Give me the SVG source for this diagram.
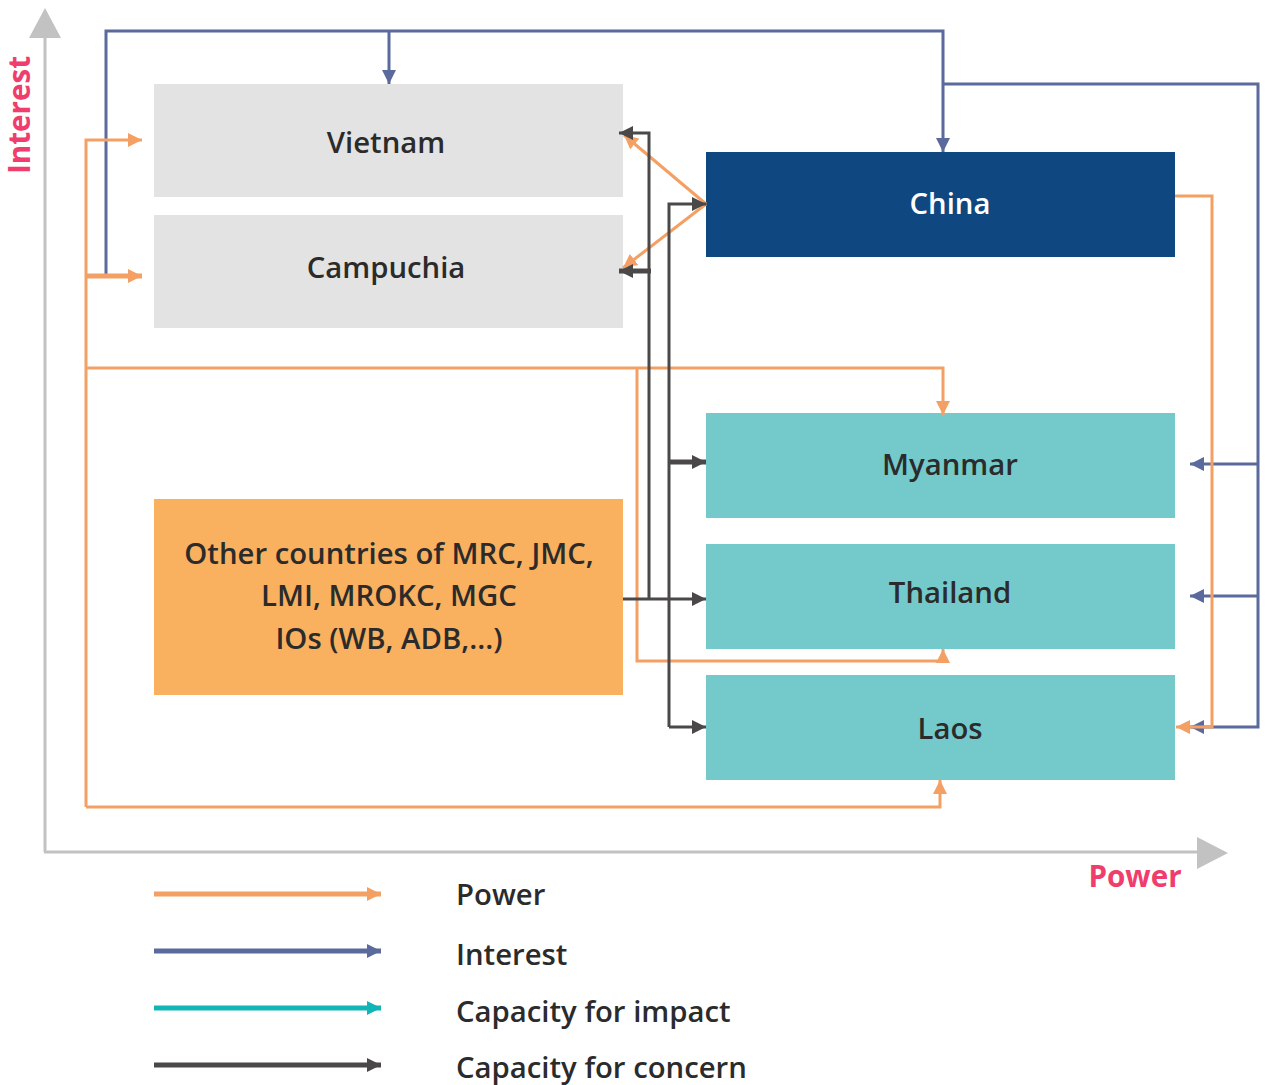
<svg xmlns="http://www.w3.org/2000/svg" width="1265" height="1085" viewBox="0 0 1265 1085">
  <style>
    .lbl { font-family: "Open Sans", "Liberation Sans", sans-serif; font-size: 29.3px; font-weight: 600; fill: #2b2b2b; text-anchor: middle; }
    .axis-lbl { font-family: "Open Sans", "Liberation Sans", sans-serif; font-size: 29.6px; font-weight: 700; fill: #ef3d6d; }
    .legend-lbl { font-family: "Open Sans", "Liberation Sans", sans-serif; font-size: 29.3px; font-weight: 600; fill: #2b2b2b; }
    .power { stroke: #f4a064; fill: none; stroke-width: 3; }
    .interest { stroke: #5a6a9c; fill: none; stroke-width: 3; }
    .impact { stroke: #12b5b5; fill: none; stroke-width: 3; }
    .concern { stroke: #4a4848; fill: none; stroke-width: 3; }
    .thick { stroke-width: 5; }
  </style>
  <defs>
    <marker id="ah-power" markerUnits="userSpaceOnUse" markerWidth="14" markerHeight="14" viewBox="0 0 14 14" refX="14" refY="7" orient="auto">
      <path d="M0,0 L14,7 L0,14 Z" fill="#f4a064"/>
    </marker>
    <marker id="ah-interest" markerUnits="userSpaceOnUse" markerWidth="14" markerHeight="14" viewBox="0 0 14 14" refX="14" refY="7" orient="auto">
      <path d="M0,0 L14,7 L0,14 Z" fill="#5a6a9c"/>
    </marker>
    <marker id="ah-impact" markerUnits="userSpaceOnUse" markerWidth="14" markerHeight="14" viewBox="0 0 14 14" refX="14" refY="7" orient="auto">
      <path d="M0,0 L14,7 L0,14 Z" fill="#12b5b5"/>
    </marker>
    <marker id="ah-concern" markerUnits="userSpaceOnUse" markerWidth="14" markerHeight="14" viewBox="0 0 14 14" refX="14" refY="7" orient="auto">
      <path d="M0,0 L14,7 L0,14 Z" fill="#4a4848"/>
    </marker>
  </defs>

  <rect width="1265" height="1085" fill="#ffffff"/>

  <!-- axes -->
  <g id="axes">
    <line x1="45" y1="36" x2="45" y2="852" stroke="#c2c2c2" stroke-width="3"/>
    <path d="M29,38 L45,8 L61,38 Z" fill="#c2c2c2"/>
    <line x1="44" y1="852" x2="1200" y2="852" stroke="#c2c2c2" stroke-width="3"/>
    <path d="M1197,837 L1228,853 L1197,869 Z" fill="#c2c2c2"/>
    <text class="axis-lbl" transform="translate(30,115) rotate(-90)" text-anchor="middle">Interest</text>
    <text class="axis-lbl" x="1135" y="887" text-anchor="middle">Power</text>
  </g>

  <!-- nodes -->
  <g id="vietnam">
    <rect x="154" y="84" width="469" height="113" fill="#e3e3e3"/>
    <text class="lbl" x="386" y="153">Vietnam</text>
  </g>
  <g id="campuchia">
    <rect x="154" y="215" width="469" height="113" fill="#e3e3e3"/>
    <text class="lbl" x="386" y="278">Campuchia</text>
  </g>
  <g id="china">
    <rect x="706" y="152" width="469" height="105" fill="#0f4780"/>
    <text class="lbl" x="950" y="214" style="fill:#ffffff">China</text>
  </g>
  <g id="myanmar">
    <rect x="706" y="413" width="469" height="105" fill="#74c9cb"/>
    <text class="lbl" x="950" y="475">Myanmar</text>
  </g>
  <g id="thailand">
    <rect x="706" y="544" width="469" height="105" fill="#74c9cb"/>
    <text class="lbl" x="950" y="603">Thailand</text>
  </g>
  <g id="laos">
    <rect x="706" y="675" width="469" height="105" fill="#74c9cb"/>
    <text class="lbl" x="950" y="739">Laos</text>
  </g>
  <g id="others">
    <rect x="154" y="499" width="469" height="196" fill="#f9b05f"/>
    <text class="lbl" x="389" y="564">Other countries of MRC, JMC,</text>
    <text class="lbl" x="389" y="606">LMI, MROKC, MGC</text>
    <text class="lbl" x="389" y="649">IOs (WB, ADB,...)</text>
  </g>

  <!-- connectors -->
  <g id="connectors">
    <!-- interest -->
    <path class="interest" d="M106,277 V31 H943 V152" marker-end="url(#ah-interest)"/>
    <path class="interest" d="M389,31 V84" marker-end="url(#ah-interest)"/>
    <path class="interest" d="M943,84 H1258 V727 H1190" marker-end="url(#ah-interest)"/>
    <path class="interest" d="M1258,464 H1190" marker-end="url(#ah-interest)"/>
    <path class="interest" d="M1258,596 H1190" marker-end="url(#ah-interest)"/>

    <!-- power -->
    <path class="power" d="M86,807 V140 H142" marker-end="url(#ah-power)"/>
    <path class="power thick" d="M86,276 H142" marker-end="url(#ah-power)"/>
    <path class="power" d="M86,368 H943 V415" marker-end="url(#ah-power)"/>
    <path class="power" d="M637,368 V661 H943 V649" marker-end="url(#ah-power)"/>
    <path class="power" d="M86,807 H940 V780" marker-end="url(#ah-power)"/>
    <path class="power" d="M1175,196 H1212 V727 H1176" marker-end="url(#ah-power)"/>
    <path class="power" d="M706,204 L624,135" marker-end="url(#ah-power)"/>
    <path class="power" d="M706,204 L623,268" marker-end="url(#ah-power)"/>

    <!-- concern -->
    <path class="concern" d="M623,599 H706" marker-end="url(#ah-concern)"/>
    <path class="concern" d="M649,599 V133 H619" marker-end="url(#ah-concern)"/>
    <path class="concern thick" d="M651,271 H619" marker-end="url(#ah-concern)"/>
    <path class="concern" d="M669,727 V204 H706" marker-end="url(#ah-concern)"/>
    <path class="concern" d="M669,727 H706" marker-end="url(#ah-concern)"/>
    <path class="concern thick" d="M668,462 H706" marker-end="url(#ah-concern)"/>
  </g>

  <!-- legend -->
  <g id="legend">
    <path class="power thick" d="M154,894 H381" marker-end="url(#ah-power)"/>
    <text class="legend-lbl" x="456" y="905">Power</text>
    <path class="interest thick" d="M154,951 H381" marker-end="url(#ah-interest)"/>
    <text class="legend-lbl" x="456" y="965">Interest</text>
    <path class="impact thick" d="M154,1008 H381" marker-end="url(#ah-impact)"/>
    <text class="legend-lbl" x="456" y="1022">Capacity for impact</text>
    <path class="concern thick" d="M154,1065 H381" marker-end="url(#ah-concern)"/>
    <text class="legend-lbl" x="456" y="1078">Capacity for concern</text>
  </g>
</svg>
